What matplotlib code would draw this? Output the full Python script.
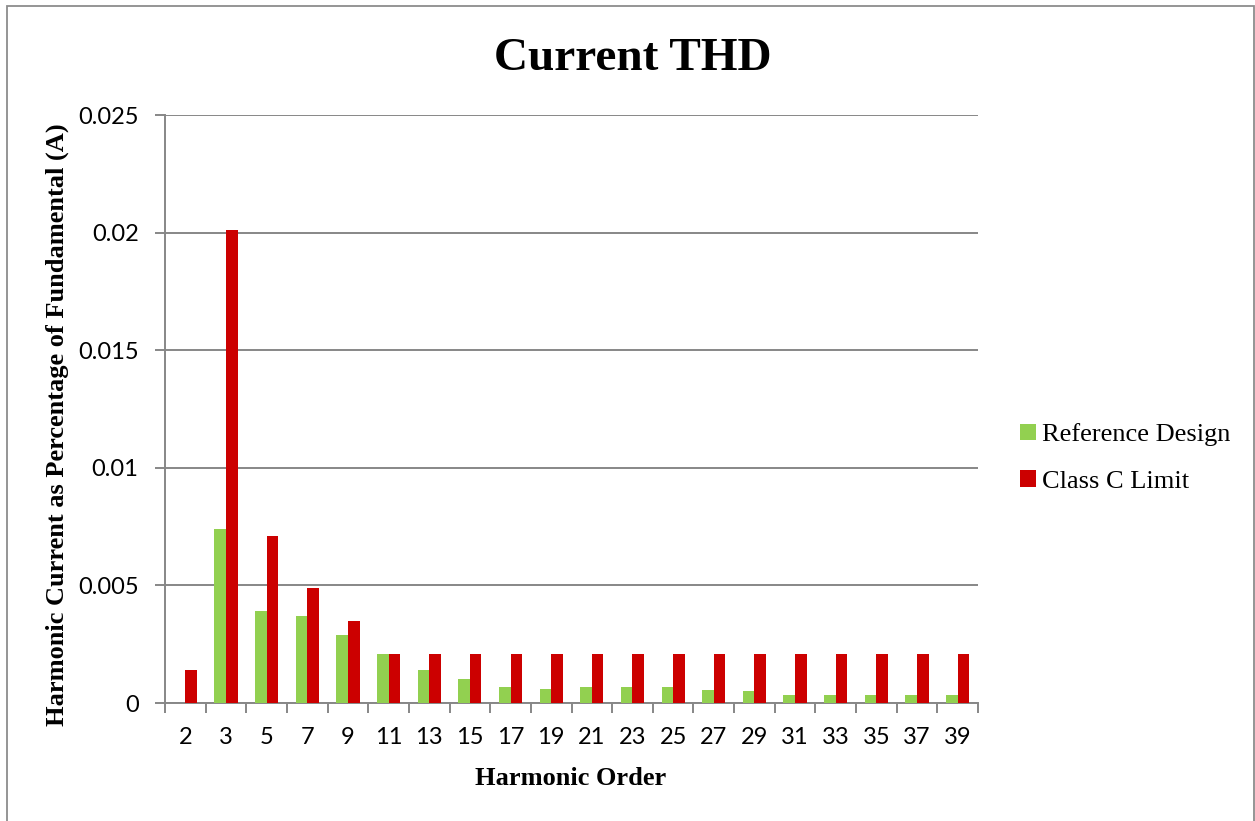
import matplotlib
matplotlib.use("Agg")
import matplotlib.pyplot as plt
import numpy as np
from matplotlib.patches import Rectangle

categories = ["2", "3", "5", "7", "9", "11", "13", "15", "17", "19",
              "21", "23", "25", "27", "29", "31", "33", "35", "37", "39"]
reference_design = [0.0, 0.0074, 0.0039, 0.0037, 0.0029, 0.0021, 0.0014, 0.0010,
                    0.0007, 0.0006, 0.0007, 0.0007, 0.0007, 0.00055, 0.0005,
                    0.00035, 0.00035, 0.00035, 0.00035, 0.00035]
class_c_limit = [0.0014, 0.0201, 0.0071, 0.0049, 0.0035, 0.0021, 0.0021, 0.0021,
                 0.0021, 0.0021, 0.0021, 0.0021, 0.0021, 0.0021, 0.0021,
                 0.0021, 0.0021, 0.0021, 0.0021, 0.0021]
y_ticks = [0, 0.005, 0.01, 0.015, 0.02, 0.025]
y_tick_labels = ["0", "0.005", "0.01", "0.015", "0.02", "0.025"]

W, H = 1255, 821
fig = plt.figure(figsize=(W / 100, H / 100), dpi=100)
fig.patch.set_facecolor("white")

# outer chart border
fig.patches.append(Rectangle((6.5 / W, -0.01), (1253.5 - 6.5) / W, 1 - 6.5 / H + 0.01,
                             transform=fig.transFigure, fill=False,
                             edgecolor="#8c8c8c", linewidth=1.3))

ax = fig.add_axes([165 / W, 1 - 703 / H, 813 / W, 588 / H])

x = np.arange(len(categories))
bw = 0.2857
gray = "#878787"
ax.bar(x - bw / 2, reference_design, width=bw, color="#92D050", label="Reference Design", zorder=3)
ax.bar(x + bw / 2, class_c_limit, width=bw, color="#CC0000", label="Class C Limit", zorder=3)

ax.set_xlim(-0.5, len(categories) - 0.5)
ax.set_ylim(0, 0.025)
ax.set_yticks(y_ticks)
ax.set_yticklabels(y_tick_labels)
ax.yaxis.grid(True, color=gray, linewidth=1.4, zorder=0)
ax.set_axisbelow(True)

ax.set_xticks(x)
ax.set_xticklabels(categories)
ax.set_xticks(np.arange(-0.5, len(categories)), minor=True)

for s in ["top", "right"]:
    ax.spines[s].set_visible(False)
for s in ["left", "bottom"]:
    ax.spines[s].set_color(gray)
    ax.spines[s].set_linewidth(1.4)

tick_font = "Lato"
ax.tick_params(axis="x", which="major", length=0, pad=17, labelsize=17)
ax.tick_params(axis="x", which="minor", length=7, width=1.4, color=gray, direction="out")
ax.tick_params(axis="y", which="major", length=7, width=1.4, color=gray, direction="out",
               pad=12, labelsize=17)
for lbl in ax.get_xticklabels() + ax.get_yticklabels():
    lbl.set_fontfamily(tick_font)

serif = "Liberation Serif"
fig.text(633 / W, 1 - 70 / H, "Current THD", ha="center", va="baseline",
         fontsize=34, fontweight="bold", family=serif)
fig.text(571 / W, 1 - 785 / H, "Harmonic Order", ha="center", va="baseline",
         fontsize=19, fontweight="bold", family=serif)
fig.text(57 / W, 1 - 425 / H, "Harmonic Current as Percentage of Fundamental (A)",
         ha="center", va="center", rotation=90,
         fontsize=19, fontweight="bold", family=serif)

fig.legend(loc="center left", bbox_to_anchor=(1020 / W, 1 - 458 / H),
           frameon=False, prop={"family": serif, "size": 19},
           handlelength=0.6, handleheight=0.6, handletextpad=0.25,
           labelspacing=0.9, borderaxespad=0, borderpad=0)

fig.savefig("out.png", dpi=100, facecolor="white")
